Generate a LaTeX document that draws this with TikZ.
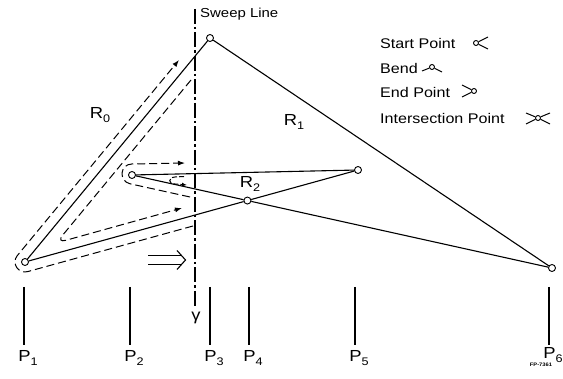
\documentclass[tikz,border=0pt]{standalone}
\usepackage{fontspec}
\setmainfont{Liberation Sans}[FakeStretch=1.15]
\usetikzlibrary{arrows.meta,calc}
\newcommand\lbl[2]{#1\raisebox{-3.5pt}{\fontsize{11}{11}\selectfont #2}}
\begin{document}
\begin{tikzpicture}[x=1pt,y=-1pt,
  edge/.style={line width=1.1pt},
  vtx/.style={circle,draw,line width=0.9pt,fill=white,inner sep=0pt,minimum size=7pt},
  route/.style={line width=1pt,dash pattern=on 8pt off 4pt,-{Latex[length=7pt,width=5pt]}},
  sweepline/.style={line width=2.6pt,dash pattern=on 15pt off 3pt on 2.5pt off 3pt},
  tickline/.style={line width=1.1pt},
  lab/.style={font=\fontsize{16}{16}\selectfont,inner sep=0pt},
  legend/.style={font=\fontsize{14}{14}\selectfont,anchor=west,inner sep=0pt},
  sym/.style={line width=1pt},
  symc/.style={circle,draw,line width=0.9pt,fill=white,inner sep=0pt,minimum size=5pt}]
\useasboundingbox (0,0) rectangle (563,379);
% sweep line
\coordinate (swt) at (195,9);
\coordinate (swb) at (195,308);
\draw[sweepline] (swt) -- (swb);
\node[font=\fontsize{13}{13}\selectfont,anchor=west,inner sep=0pt] (swl) at (200,14) {Sweep Line};
\node[lab] (gam) at (196,318) {γ};
% vertices
\coordinate (c1) at (25,262);
\coordinate (c2) at (132,175);
\coordinate (c3) at (210,38);
\coordinate (c5) at (358,170);
\coordinate (c6) at (552,268);
\coordinate (c4) at (intersection of c1--c5 and c2--c6);
% dashed routes
\draw[route] (193,226) -- (27.7,271.6) .. controls (18.3,274.2) and (11.1,263.1) .. (17.3,255.6) -- (179,60);
\draw[route,rounded corners=10pt] (191,80) -- (56.2,243) -- (182,208);
\draw[route] (190,197) -- (130.1,183.8) .. controls (118.4,181.2) and (119.8,164.3) .. (131.8,164) -- (185,163);
\draw[route,dash pattern=on 5pt off 2pt,-{Latex[length=5pt,width=4pt]}] (184,176.5) -- (175,177) .. controls (168,177.5) and (168,184) .. (175,184) -- (187,185);
% edges
\node[vtx] (p1) at (c1) {};
\node[vtx] (p2) at (c2) {};
\node[vtx] (p3) at (c3) {};
\node[vtx] (p4) at (c4) {};
\node[vtx] (p5) at (c5) {};
\node[vtx] (p6) at (c6) {};
\draw[edge] (p1) -- (p3);
\draw[edge] (p3) -- (p6);
\draw[edge] (p1) -- (p4);
\draw[edge] (p4) -- (p5);
\draw[edge] (p2) -- (p5);
\draw[edge] (p2) -- (p4);
\draw[edge] (p4) -- (p6);
% region labels
\node[lab] (r0) at (100,115) {\lbl{R}{0}};
\node[lab] (r1) at (294,122) {\lbl{R}{1}};
\node[lab] (r2) at (250,184) {\lbl{R}{2}};
% sweep direction
\draw[line width=1.1pt] (148,255.5) -- (182,255.5) (148,264.5) -- (182,264.5);
\draw[line width=1.1pt] (177,250.5) -- (185.5,260) -- (177,269.5);
% ticks and labels
\foreach \n/\x/\ly in {1/24/358,2/130/358,3/210/358,4/249/358,5/355/358,6/549/355}{
  \coordinate (t\n a) at (\x,287);
  \coordinate (t\n b) at (\x,345);
  \draw[tickline] (t\n a) -- (t\n b);
  \node[lab] (pl\n) at (\x+4,\ly) {\lbl{P}{\n}};
}
\node[font=\fontsize{5}{5}\selectfont\bfseries,inner sep=0pt] (fp) at (541,364.5) {FP-7361};
% legend
\node[legend] (lg1) at (380,43) {Start Point};
\node[legend] (lg2) at (380,68) {Bend};
\node[legend] (lg3) at (380,92) {End Point};
\node[legend] (lg4) at (380,118) {Intersection Point};
\node[symc] (s0) at (476,43) {};
\coordinate (s1) at (488,37); \coordinate (s2) at (488,49);
\draw[sym] (s0) -- (s1) (s0) -- (s2);
\node[symc] (b0) at (432,67) {};
\coordinate (b1) at (422,71); \coordinate (b2) at (442,72);
\draw[sym] (b0) -- (b1) (b0) -- (b2);
\node[symc] (e0) at (474,91) {};
\coordinate (e1) at (462,85); \coordinate (e2) at (462,97);
\draw[sym] (e0) -- (e1) (e0) -- (e2);
\node[symc] (i0) at (538,118) {};
\coordinate (i1) at (526,113); \coordinate (i2) at (526,124);
\coordinate (i3) at (550,113); \coordinate (i4) at (550,124);
\draw[sym] (i0) -- (i1) (i0) -- (i2) (i0) -- (i3) (i0) -- (i4);
\end{tikzpicture}
\end{document}
